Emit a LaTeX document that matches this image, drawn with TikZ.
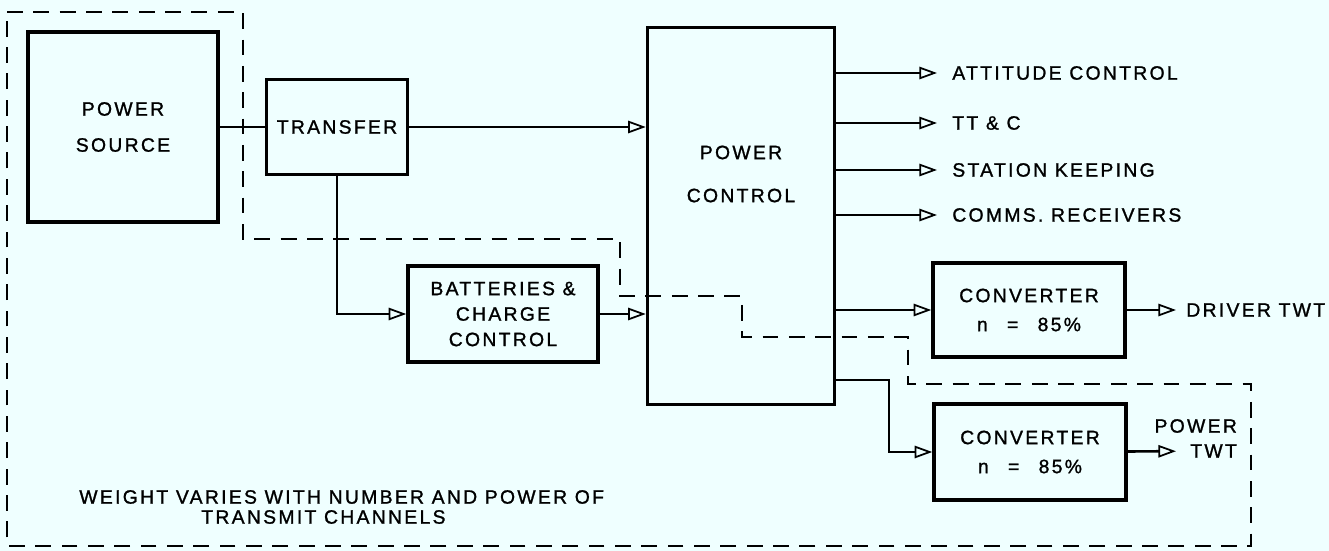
\documentclass[tikz,border=0pt]{standalone}
\usepackage{fontspec}
\setmainfont{Liberation Sans}[LetterSpace=12, FakeBold=1.2]
\usetikzlibrary{arrows.meta, positioning, calc}
\definecolor{paper}{HTML}{EFFFFF}
\tikzset{
    block/.style={rectangle, draw, line width=2pt, align=center, inner sep=0pt},
    link/.style={line width=1.5pt},
    arrow/.style={line width=1.5pt, -{Triangle[length=10pt, width=7pt, fill=paper, line width=1pt]}},
    boundary/.style={line width=1.2pt, dash pattern=on 9pt off 6pt},
    tag/.style={inner xsep=0.3cm, inner ysep=0.1cm}
}

\begin{document}
\begin{tikzpicture}[x=0.02cm, y=-0.02cm, font=\fontsize{11}{14.5}\selectfont]
    \fill [paper] (0,0) rectangle (1329,551);
    \useasboundingbox (0,0) rectangle (1329,551);

    \node (src) [block, minimum width=3.8cm, minimum height=3.8cm] at (123,127) {POWER\\[6pt]SOURCE};
    \node (xfer) [block, minimum width=2.82cm, minimum height=1.9cm] at (337,127) {TRANSFER};
    \node (batt) [block, minimum width=3.8cm, minimum height=1.92cm] at (503,314) {BATTERIES \&\\CHARGE\\CONTROL};
    \node (pwr) [block, minimum width=3.74cm, minimum height=7.54cm,
        label={[align=center, yshift=0.84cm]center:POWER\\[10pt]CONTROL}] at (741,216) {};
    \node (conv1) [block, minimum width=3.84cm, minimum height=1.88cm] at (1029,310) {CONVERTER\\[2pt]n\quad=\quad85\%};
    \node (conv2) [block, minimum width=3.84cm, minimum height=1.92cm] at (1030,452) {CONVERTER\\[2pt]n\quad=\quad85\%};

    \node (att) [tag, anchor=west] at (937,73) {ATTITUDE CONTROL};
    \node (ttc) [tag, anchor=west] at (937,123) {TT \& C};
    \node (stk) [tag, anchor=west] at (937,170) {STATION KEEPING};
    \node (rcv) [tag, anchor=west] at (937,215) {COMMS. RECEIVERS};
    \node (drv) [tag, anchor=west, inner xsep=0.2cm] at (1176,310) {DRIVER TWT};
    \node (ptwt) [tag, anchor=west, inner xsep=0.28cm,
        label={[anchor=east, inner sep=0pt, xshift=-0.28cm, yshift=0.5cm]east:POWER}] at (1176,451) {TWT};

    \node (note1) [anchor=west, inner sep=0pt] at (79,497) {WEIGHT VARIES WITH NUMBER AND POWER OF};
    \node (note2) [anchor=west, inner sep=0pt] at (201,517) {TRANSMIT CHANNELS};

    \draw [boundary] (7,12) -- (243,12) -- (243,239) -- (620,239) -- (620,296) -- (742,296) -- (742,337)
        -- (908,337) -- (908,384) -- (1251,384) -- (1251,546) -- (7,546) -- cycle;

    \draw [link] (src) -- (xfer);
    \draw [arrow] (xfer) -- (xfer -| pwr.west);
    \draw [arrow] (xfer) |- (batt);
    \draw [arrow] (batt) -- (batt -| pwr.west);
    \foreach \out in {att, ttc, stk, rcv}
        \draw [arrow] (pwr.east |- \out) -- (\out);
    \draw [arrow] (pwr.east |- conv1) -- (conv1);
    \coordinate (tap) at (836,380);
    \draw [arrow] (tap) -- ++(53,0) |- (conv2);
    \draw [arrow] (conv1) -- (drv);
    \draw [arrow] (conv2) -- (ptwt);
\end{tikzpicture}
\end{document}
